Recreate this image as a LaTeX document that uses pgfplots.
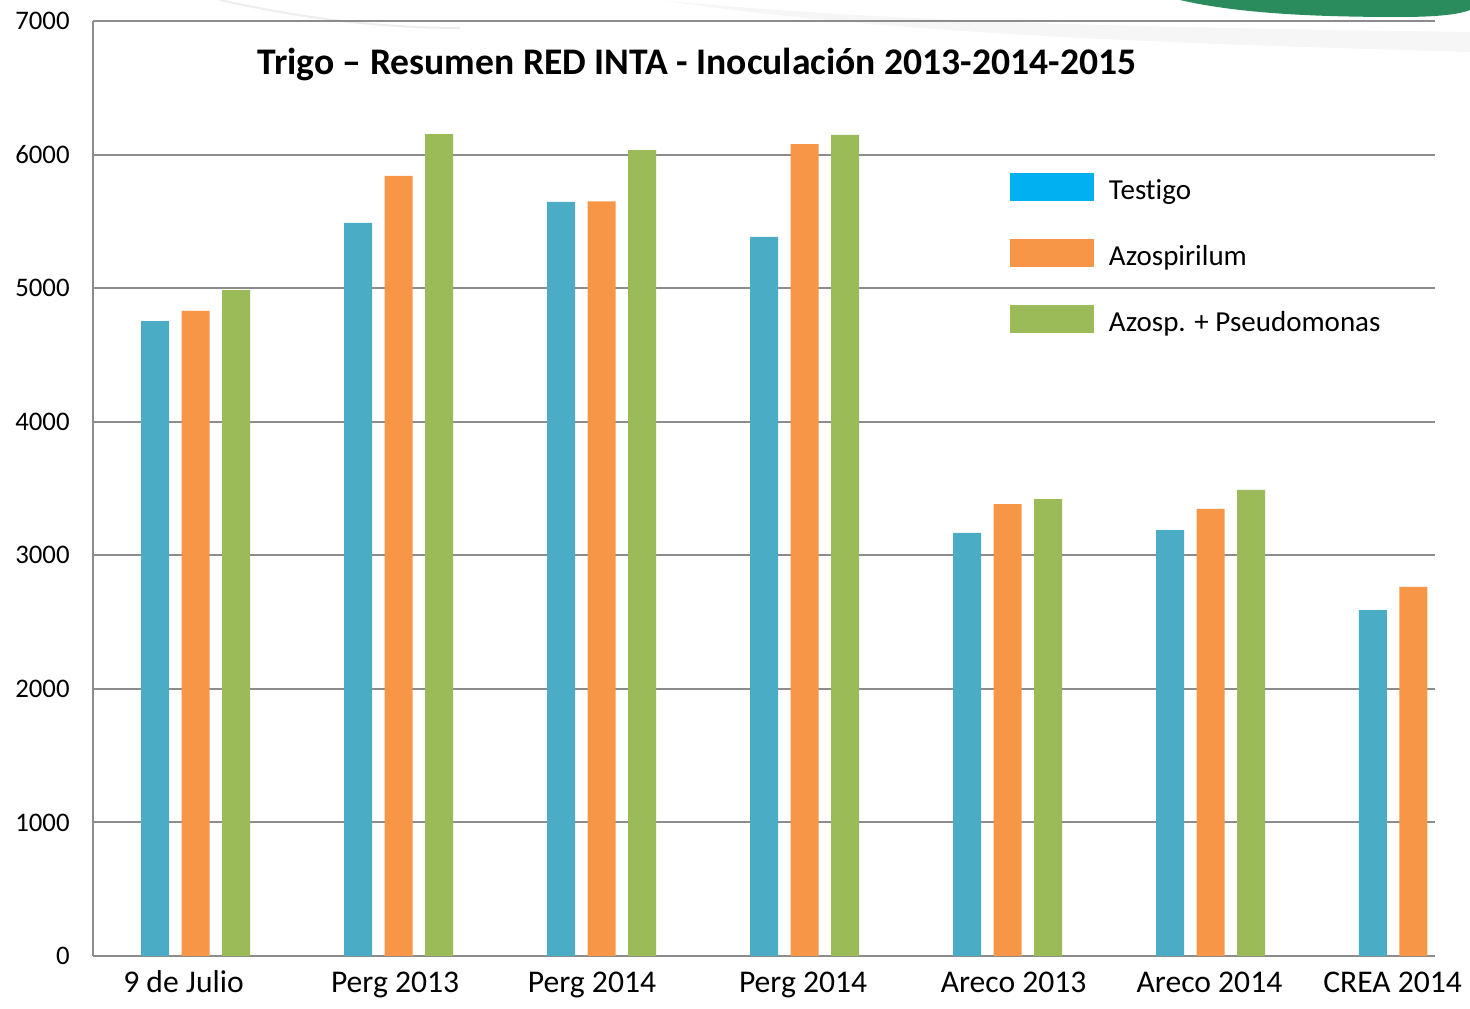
\documentclass[border=0pt]{standalone}
\usepackage{fontspec}
\setmainfont{Carlito}[Ligatures=NoCommon]
\usepackage{pgfplots}
\pgfplotsset{compat=1.18}
\definecolor{cblue}{HTML}{4BACC6}
\definecolor{corange}{HTML}{F79646}
\definecolor{cgreen}{HTML}{9BBB59}
\definecolor{ccyan}{HTML}{00B0F0}
\definecolor{gridgray}{HTML}{8C8C8C}
\definecolor{dgreen}{HTML}{2A8C5C}
\begin{document}
\begin{tikzpicture}[x=1pt,y=1pt]
\useasboundingbox (0,0) rectangle (735,504);
% background decorations
\fill[gray!7] (330,504) .. controls (450,492) and (600,490) .. (735,488) -- (735,478) .. controls (600,482) and (450,486) .. (330,504) -- cycle;
\draw[gray!14, line width=1pt] (110,504) .. controls (150,495) and (190,490) .. (230,490);
\fill[dgreen] (590,504) .. controls (620,497) and (660,495.5) .. (700,495.5) .. controls (720,495.5) and (730,497) .. (735,499) -- (735,504) -- cycle;
\begin{axis}[
  at={(46.5pt,26pt)}, anchor=south west,
  width=671pt, height=467.5pt, scale only axis,
  xmin=-0.505, xmax=6.106, ymin=0, ymax=7000,
  axis lines=left, axis line style={-, draw=gridgray, line width=1pt},
  ytick={0,1000,...,7000},
  ymajorgrids, grid style={draw=gridgray, line width=1pt},
  major tick length=0pt,
  xtick={-0.059,0.983,1.953,2.993,4.030,4.995,5.897},
  xticklabels={9 de Julio,Perg 2013,Perg 2014,Perg 2014,Areco 2013,Areco 2014,CREA 2014},
  xticklabel style={font=\fontsize{15.8}{18}\selectfont, anchor=base, inner sep=0pt, yshift=-18pt},
  yticklabel style={font=\fontsize{13.4}{15}\selectfont, anchor=east, inner sep=0pt, xshift=-11.5pt},
  /pgf/number format/assume math mode=true,
  /pgf/number format/1000 sep={},
  scaled y ticks=false,
  ybar, bar width=14pt,
  legend image code/.code={\fill[#1] (0pt,-5pt) rectangle (42pt,9pt);},
  legend style={at={(rel axis cs:0.683,0.8375)}, anchor=north west, draw=none, fill=none,
    font=\fontsize{14.5}{17}\selectfont, row sep=18.25pt, inner sep=0pt,
    nodes={inner sep=0pt},
    /tikz/every odd column/.append style={column sep=7.5pt}},
  legend cell align=left,
  clip=true,
]
\addlegendimage{fill=ccyan, draw=none}
\addlegendentry{Testigo}
\addlegendimage{fill=corange, draw=none}
\addlegendentry{Azospirilum}
\addlegendimage{fill=cgreen, draw=none}
\addlegendentry{Azosp. + Pseudomonas}
\addplot[fill=cblue, draw=none, bar shift=-20.25pt, forget plot] coordinates {(0,4754) (1,5488) (2,5645) (3,5383) (4,3167) (5,3189) (6,2590)};
\addplot[fill=corange, draw=none, bar shift=0pt, forget plot] coordinates {(0,4829) (1,5840) (2,5650) (3,6079) (4,3384) (5,3347) (6,2763)};
\addplot[fill=cgreen, draw=none, bar shift=20.25pt, forget plot] coordinates {(0,4986) (1,6154) (2,6034) (3,6147) (4,3421) (5,3489)};
\node[anchor=base, font=\bfseries\fontsize{18.8}{22}\selectfont, inner sep=0pt] at (rel axis cs:0.450,0.943) {Trigo – Resumen RED INTA - Inoculación 2013-2014-2015};
\end{axis}
\end{tikzpicture}
\end{document}
